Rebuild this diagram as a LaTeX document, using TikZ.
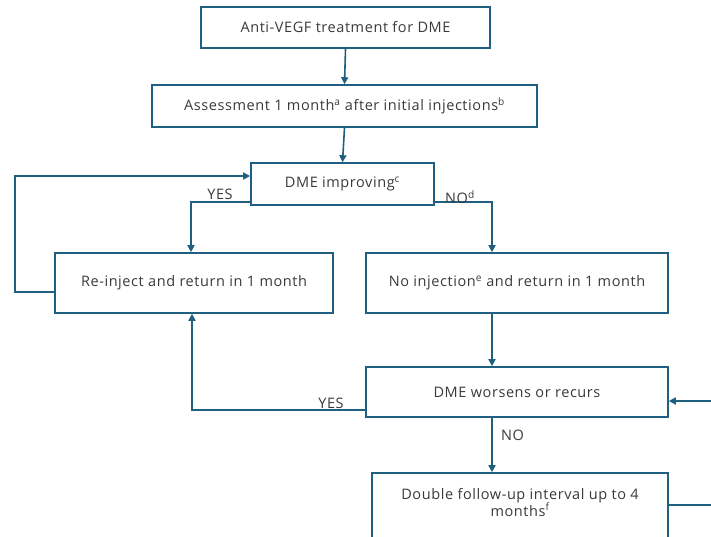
\documentclass[tikz,border=0pt]{standalone}
\usepackage{fontspec}
\setmainfont{Open Sans}[LetterSpace=4]
\usetikzlibrary{arrows.meta}
\definecolor{lc}{HTML}{1F5F80}
\definecolor{tc}{HTML}{3A3A3A}
\begin{document}
\begin{tikzpicture}[x=1pt,y=-1pt,
  box/.style={draw=lc,line width=1.6pt,text=tc,font=\fontsize{14.5}{17}\selectfont,align=center,inner sep=0pt},
  conn/.style={draw=lc,line width=1.6pt,-{Triangle[length=7pt,width=7pt]}},
  plain/.style={draw=lc,line width=1.6pt},
  lab/.style={text=tc,font=\fontsize{14.5}{17}\selectfont,inner sep=1pt}]
\useasboundingbox (0,0) rectangle (711,536);
\fill[white] (0,0) rectangle (711,536);
\clip (0,0) rectangle (711,536);
\node[box,minimum width=289pt,minimum height=41pt] (b1) at (345.5,27.5) {Anti-VEGF treatment for DME};
\node[box,minimum width=385pt,minimum height=42pt] (b2) at (344.5,106) {Assessment 1 month\textsuperscript{a} after initial injections\textsuperscript{b}};
\node[box,minimum width=183pt,minimum height=42pt] (b3) at (342.5,184) {DME improving\textsuperscript{c}};
\node[box,minimum width=278pt,minimum height=60pt] (b4) at (194,283) {Re-inject and return in 1 month};
\node[box,minimum width=302pt,minimum height=60pt] (b5) at (517,283) {No injection\textsuperscript{e} and return in 1 month};
\node[box,minimum width=302pt,minimum height=50pt] (b6) at (517,392) {DME worsens or recurs};
\node[box,minimum width=296pt,minimum height=80pt,text depth=22pt] (b7) at (520,513) {Double follow-up interval up to 4\\months\textsuperscript{f}};
\draw[conn] (b1.south) -- (b2.north);
\draw[conn] (b2.south) -- (b3.north);
\coordinate (ly) at (0,202);
\draw[conn] (b3.west |- ly) -| (b4.north -| 191,0);
\draw[conn] (b3.east |- ly) -| (b5.north -| 492,0);
\node[lab,anchor=south] at (220,201) {YES};
\node[lab,anchor=south] at (460,205) {NO\textsuperscript{d}};
\draw[conn] (b4.west |- 0,292) -- (15,292) -- (15,176) -- (b3.west |- 0,176);
\draw[conn] (b5.south -| 492,0) -- (b6.north -| 492,0);
\draw[conn] (b6.west |- 0,410) -| (b4.south -| 192,0);
\node[lab,anchor=south] at (331,410) {YES};
\draw[conn] (b6.south -| 492,0) -- (b7.north -| 492,0);
\node[lab,anchor=west] at (500,435) {NO};
\draw[conn] (b7.east |- 0,505) -- (730,505) -- (730,401) -- (b6.east |- 0,401);
\end{tikzpicture}
\end{document}
